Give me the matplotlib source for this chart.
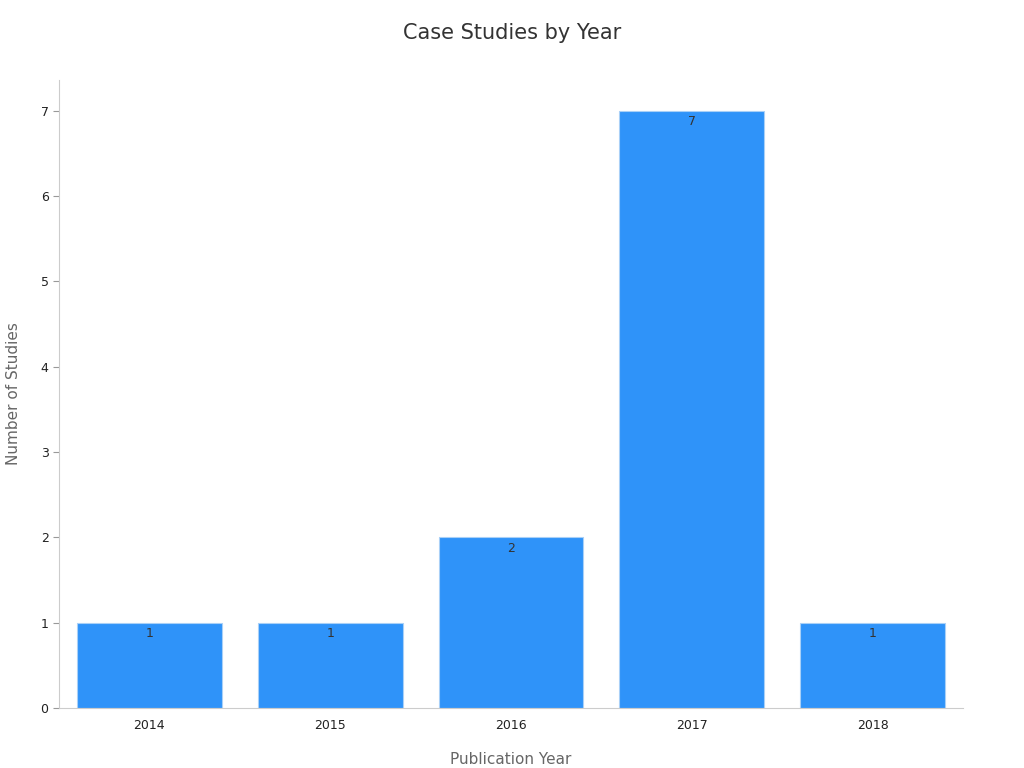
import matplotlib
matplotlib.use("Agg")
import matplotlib.pyplot as plt

years = ["2014", "2015", "2016", "2017", "2018"]
counts = [1, 1, 2, 7, 1]

fig = plt.figure(figsize=(10.24, 7.68), dpi=100)
ax = fig.add_axes([59/1024, 1-708/768, (963-59)/1024, (708-80)/768])
x = range(len(years))
bars = ax.bar(x, counts, width=0.8, color="#2f93f9", edgecolor="#a9d0f7", linewidth=0.8)
for xi, v in zip(x, counts):
    ax.text(xi, v - 0.05, str(v), ha="center", va="top", fontsize=9, color="#333333")
ax.set_xlim(-0.5, 4.5)
ax.set_ylim(0, 7.36)
ax.set_xticks(list(x))
ax.set_xticklabels(years)
ax.set_yticks(range(8))
ax.tick_params(axis="both", labelsize=9, colors="#222222", length=4)
ax.tick_params(axis="x", length=0, pad=8)
ax.tick_params(axis="y", color="#999999")
for s in ["top", "right"]:
    ax.spines[s].set_visible(False)
for s in ["left", "bottom"]:
    ax.spines[s].set_color("#cccccc")
ax.set_xlabel("Publication Year", fontsize=11, color="#666666", labelpad=14)
ax.set_ylabel("Number of Studies", fontsize=11, color="#666666", labelpad=14)
fig.text(0.5, 1-33/768, "Case Studies by Year", ha="center", va="center", fontsize=15, color="#333333")
fig.savefig("out.png", dpi=100)
